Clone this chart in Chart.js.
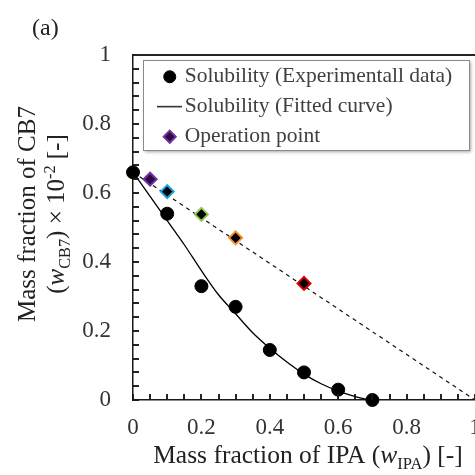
<!DOCTYPE html>
<html><head><meta charset="utf-8">
<script src="https://cdn.jsdelivr.net/npm/chart.js@4.4.1/dist/chart.umd.min.js"></script>
<style>
html,body{margin:0;padding:0;overflow:hidden;background:#fff;width:475px;height:475px}
#wrap{position:absolute;left:0;top:0;width:495px;height:475px}
</style>
</head><body><div id="wrap"><canvas id="c" width="495" height="475"></canvas></div>
<script>
// ---- data ----
const expX = [0, 0.1, 0.2, 0.3, 0.4, 0.5, 0.6, 0.7];
const expY = [0.66, 0.54, 0.33, 0.27, 0.145, 0.08, 0.03, 0.0];
const fitX = [0, 0.05, 0.1, 0.15, 0.2, 0.25, 0.3, 0.35, 0.4, 0.45, 0.5, 0.55, 0.6, 0.65, 0.69];
const fitY = [0.66, 0.59, 0.52, 0.45, 0.375, 0.305, 0.25, 0.195, 0.15, 0.11, 0.075, 0.047, 0.026, 0.01, 0.0];
const opX = [0.05, 0.1, 0.2, 0.3, 0.5];
const opY = [0.64, 0.604, 0.538, 0.47, 0.338];
const opColors = ['#7030A0', '#1AA3E8', '#8DCB55', '#F7902E', '#E00000'];
const opFill = ['#2a0c40', '#000000', '#000000', '#000000', '#000000'];
const tieX = [0, 1];
const tieY = [0.66, 0];
const xTickLabels = ['0', '0.2', '0.4', '0.6', '0.8', '1'];
const yTickLabels = ['0', '0.2', '0.4', '0.6', '0.8', '1'];
const seriesNames = ['Solubility (Experimentall data)', 'Solubility (Fitted curve)', 'Operation point', 'Operation line'];

const SERIF = "'Liberation Serif','Times New Roman',serif";
const pts = (xs, ys) => xs.map((v, i) => ({x: v, y: ys[i]}));

// short line used as the legend symbol of the fitted curve
const lineSym = document.createElement('canvas');
lineSym.width = 25; lineSym.height = 3;
(function(){ const g = lineSym.getContext('2d'); g.strokeStyle = '#000'; g.lineWidth = 1.3; g.beginPath(); g.moveTo(0, 1.5); g.lineTo(25, 1.5); g.stroke(); })();

function labelFor(list, step) {
  return function(v) {
    const k = v / step;
    if (Math.abs(k - Math.round(k)) < 1e-6) return list[Math.round(k)];
    return '';
  };
}

function drawRich(ctx, segs, size) {
  let total = 0;
  const items = segs.map(s => {
    const fs = (s.sub || s.sup) ? size * 0.65 : size;
    const font = (s.it ? 'italic ' : '') + fs + 'px ' + SERIF;
    ctx.font = font;
    const w = ctx.measureText(s.t).width;
    total += w;
    return {t: s.t, font, w, dy: s.sub ? size * 0.22 : (s.sup ? -size * 0.38 : 0)};
  });
  let x = -total / 2;
  items.forEach(it => { ctx.font = it.font; ctx.fillText(it.t, x, it.dy); x += it.w; });
}

function drawInwardTicks(chart) {
  const {ctx, chartArea: a} = chart;
  const xs = chart.scales.x, ys = chart.scales.y;
  ctx.save();
  ctx.setLineDash([]);
  ctx.strokeStyle = 'rgb(25,25,25)'; ctx.lineWidth = 1.5;
  ctx.beginPath();
  xs.ticks.forEach(t => { const p = Math.round(xs.getPixelForValue(t.value)); ctx.moveTo(p, a.bottom); ctx.lineTo(p, a.bottom - 6); });
  ys.ticks.forEach(t => { const p = Math.round(ys.getPixelForValue(t.value)); ctx.moveTo(a.left, p); ctx.lineTo(a.left + 6, p); });
  ctx.moveTo(a.left, a.top); ctx.lineTo(a.right + 20, a.top);
  ctx.stroke();
  ctx.restore();
}

const decor = {
  id: 'decor',
  afterLayout(chart) {
    const a = chart.chartArea, lg = chart.legend;
    lg.left = a.left + 24; lg.top = a.top + 2.5; lg.right = a.right; lg.bottom = a.bottom;
    lg.width = lg.right - lg.left; lg.height = lg.bottom - lg.top;
  },
  beforeDraw(chart) {
    const {ctx, chartArea: a} = chart;
    drawInwardTicks(chart);
    ctx.save();
    ctx.shadowColor = 'rgba(0,0,0,0.35)'; ctx.shadowBlur = 3; ctx.shadowOffsetX = 2; ctx.shadowOffsetY = 2;
    ctx.fillStyle = '#fff';
    ctx.fillRect(a.left + 10, a.top + 5, 326, 90);
    ctx.restore();
    ctx.save();
    ctx.strokeStyle = '#8a8a8a'; ctx.lineWidth = 1;
    ctx.strokeRect(a.left + 10.5, a.top + 5.5, 326, 90);
    ctx.restore();
  },
  afterDraw(chart) {
    const {ctx} = chart;
    drawInwardTicks(chart);
    ctx.save();
    ctx.fillStyle = '#222'; ctx.textBaseline = 'alphabetic'; ctx.textAlign = 'left';
    ctx.font = '24px ' + SERIF;
    ctx.fillText('(a)', 32, 35);
    ctx.save(); ctx.translate(35, 214); ctx.rotate(-Math.PI / 2);
    drawRich(ctx, [{t: 'Mass fraction of CB7'}], 25);
    ctx.restore();
    ctx.save(); ctx.translate(64, 214); ctx.rotate(-Math.PI / 2);
    drawRich(ctx, [{t: '('}, {t: 'w', it: true}, {t: 'CB7', sub: true}, {t: ') \u00d7 10'}, {t: '-2', sup: true}, {t: ' [-]'}], 25);
    ctx.restore();
    ctx.save(); ctx.translate(308, 463);
    drawRich(ctx, [{t: 'Mass fraction of IPA ('}, {t: 'w', it: true}, {t: 'IPA', sub: true}, {t: ') [-]'}], 25.5);
    ctx.restore();
    ctx.restore();
  }
};

new Chart(document.getElementById('c'), {
  type: 'scatter',
  data: {
    datasets: [
      {label: seriesNames[0], data: pts(expX, expY), pointStyle: 'circle', pointRadius: 6.5,
       backgroundColor: '#000', borderColor: '#000', pointBorderWidth: 1, borderWidth: 1, clip: false},
      {label: seriesNames[1], data: pts(fitX, fitY), showLine: true, pointRadius: 0, pointHoverRadius: 0,
       pointStyle: lineSym, borderColor: '#000', backgroundColor: '#000', borderWidth: 1.3,
       cubicInterpolationMode: 'monotone'},
      {label: seriesNames[2], data: pts(opX, opY), pointStyle: 'rectRot', pointRadius: 6.5,
       pointBackgroundColor: opFill, backgroundColor: opFill, pointBorderColor: opColors, borderColor: opColors,
       pointBorderWidth: 2, borderWidth: 2, clip: false},
      {label: seriesNames[3], data: pts(tieX, tieY), showLine: true, pointRadius: 0, pointHoverRadius: 0,
       borderColor: '#111', borderWidth: 1.2, borderDash: [4, 4]}
    ]
  },
  options: {
    responsive: false,
    animation: false,
    devicePixelRatio: 1,
    layout: {padding: {top: 55, left: 0, right: 20, bottom: 0}},
    plugins: {
      tooltip: {enabled: false},
      legend: {
        position: 'chartArea', align: 'start',
        labels: {
          usePointStyle: true, boxWidth: 8.5, boxHeight: 8.5, padding: 8.5,
          color: '#404040', font: {family: SERIF, size: 21.5},
          filter: item => item.datasetIndex < 3
        }
      }
    },
    scales: {
      x: {
        type: 'linear', min: 0, max: 1,
        afterFit: s => { s.height = 75; },
        ticks: {stepSize: 0.05, autoSkip: false, maxRotation: 0, padding: 14, color: '#333',
                font: {family: SERIF, size: 23}, callback: labelFor(xTickLabels, 0.2)},
        grid: {display: true, drawOnChartArea: false, drawTicks: false},
        border: {display: true, color: '#1a1a1a', width: 1.5}
      },
      y: {
        type: 'linear', min: 0, max: 1,
        afterFit: s => { s.width = 133; },
        ticks: {stepSize: 0.04, autoSkip: false, padding: 22, color: '#333',
                font: {family: SERIF, size: 23}, callback: labelFor(yTickLabels, 0.2)},
        grid: {display: true, drawOnChartArea: false, drawTicks: false},
        border: {display: true, color: '#1a1a1a', width: 1.5}
      }
    }
  },
  plugins: [decor]
});
</script>
</body></html>
